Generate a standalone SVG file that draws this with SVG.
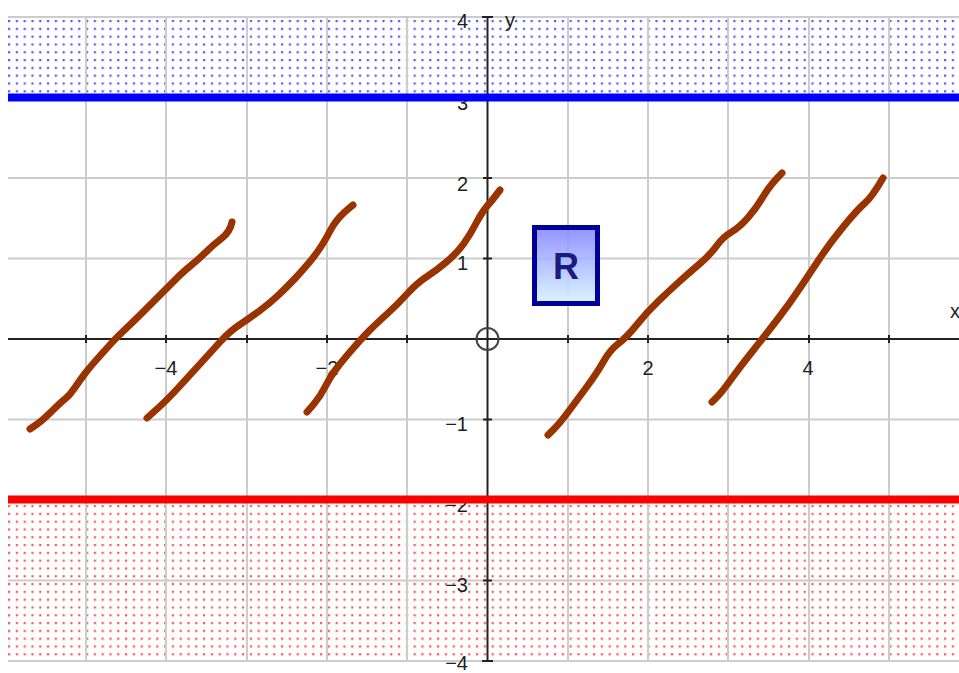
<svg xmlns="http://www.w3.org/2000/svg" width="959" height="673" viewBox="0 0 959 673">
  <style>
    .grid { stroke: #cccccc; stroke-width: 2; fill: none; }
    .axis { stroke: #222222; stroke-width: 2; fill: none; }
    .lbl { font-family: "Liberation Sans", Arial, sans-serif; font-size: 20px; fill: #1e1e1e; }
    .curve { stroke: #993300; stroke-width: 7; fill: none; stroke-linecap: round; stroke-linejoin: round; }
  </style>
  <defs>
    <pattern id="dotsBlue" x="8" y="20" width="7.8" height="7.8" patternUnits="userSpaceOnUse">
      <rect x="0" y="0" width="2.2" height="2.2" fill="#5a5aff"/>
    </pattern>
    <pattern id="dotsRed" x="8" y="505" width="7.8" height="7.8" patternUnits="userSpaceOnUse">
      <rect x="0" y="0" width="2.2" height="2.2" fill="#ff5a5a"/>
    </pattern>
    <linearGradient id="boxFill" x1="0" y1="0" x2="0" y2="1">
      <stop offset="0" stop-color="#8585ff"/>
      <stop offset="1" stop-color="#d6f4ff"/>
    </linearGradient>
  </defs>
  <rect width="959" height="673" fill="#ffffff"/>

  <g id="regions">
    <rect x="8" y="18" width="951" height="76" fill="url(#dotsBlue)"/>
    <rect x="8" y="503" width="951" height="156" fill="url(#dotsRed)"/>
  </g>

  <g id="grid" class="grid">
    <path d="M86,17V661 M166,17V661 M247,17V661 M327,17V661 M407,17V661 M568,17V661 M648,17V661 M728,17V661 M809,17V661 M889,17V661"/>
    <path d="M8,17H959 M8,97.5H959 M8,178H959 M8,258.5H959 M8,419.5H959 M8,500H959 M8,580.5H959 M8,661H959"/>
  </g>

  <g id="axes" class="axis">
    <path d="M8,339H959"/>
    <path d="M487.5,17V661"/>
    <path d="M482,17H493 M482,661H493"/>
    <path d="M483,97.5H492 M483,178H492 M483,258.5H492 M483,419.5H492 M483,500H492 M483,580.5H492"/>
    <path d="M86,335V343 M166,335V343 M247,335V343 M327,335V343 M407,335V343 M568,335V343 M648,335V343 M728,335V343 M809,335V343 M889,335V343"/>
  </g>

  <g id="labels" class="lbl">
    <text x="468" y="28" text-anchor="end">4</text>
    <text x="468" y="110" text-anchor="end">3</text>
    <text x="468" y="191" text-anchor="end">2</text>
    <text x="468" y="270" text-anchor="end">1</text>
    <text x="468" y="431" text-anchor="end">−1</text>
    <text x="468" y="512" text-anchor="end">−2</text>
    <text x="468" y="592" text-anchor="end">−3</text>
    <text x="468" y="670" text-anchor="end">−4</text>
    <text x="166" y="375" text-anchor="middle">−4</text>
    <text x="327" y="375" text-anchor="middle">−2</text>
    <text x="648" y="375" text-anchor="middle">2</text>
    <text x="808" y="375" text-anchor="middle">4</text>
    <text x="505" y="27">y</text>
    <text x="950" y="318">x</text>
  </g>

  <g id="boundaries">
    <line id="line-y3" x1="8" y1="97.5" x2="959" y2="97.5" stroke="#0000ff" stroke-width="8"/>
    <line id="line-ym2" x1="8" y1="499.5" x2="959" y2="499.5" stroke="#ff0000" stroke-width="8"/>
  </g>

  <g id="curves">
    <path id="curve1" class="curve" d="M30,429 L36.5,424.5 Q43,420 51.5,411.5 Q60,403 65,399 Q70,395 75,387.5 Q80,380 85,373.5 Q90,367 98.5,357.5 Q107,348 112,342.5 Q117,337 125,329.5 Q133,322 140,315 Q147,308 153.5,301.5 Q160,295 166.5,288.5 Q173,282 178,277 Q183,272 191.5,265 Q200,258 206.5,251.5 Q213,245 221.5,238.5 Q230,232 232,222"/>
    <path id="curve2" class="curve" d="M147,418 L157,409 Q167,400 178.5,387.5 Q190,375 200,364 Q210,353 220,342 Q230,331 240,324.5 Q250,318 260,310.5 Q270,303 278.5,295 Q287,287 295,278.5 Q303,270 310,261.5 Q317,253 322,245 Q327,237 330,231 Q333,225 338,219 Q343,213 353,205"/>
    <path id="curve3" class="curve" d="M307,412 L313.5,404.5 Q320,397 325,387 Q330,377 336.5,368.5 Q343,360 353,348.5 Q363,337 370,330 Q377,323 387,314 Q397,305 407,294 Q417,283 427,276.5 Q437,270 447,261.5 Q457,253 463.5,244 Q470,235 476.5,222.5 Q483,210 491.5,201 L500,190"/>
    <path id="curve4" class="curve" d="M548,435 L554,429 Q560,423 568.5,411.5 Q577,400 587,386.5 Q597,373 603.5,361.5 Q610,350 618.5,343.5 Q627,337 637,324.5 Q647,312 658.5,301 Q670,290 680,281 Q690,272 700,263.5 Q710,255 716.5,246 Q723,237 731.5,232 Q740,227 748.5,217 Q757,207 763.5,196 Q770,185 782,173"/>
    <path id="curve5" class="curve" d="M712,402 L717,397 Q722,392 731,379.5 Q740,367 753.5,350 Q767,333 778.5,318 Q790,303 800,288 Q810,273 820,258 Q830,243 843.5,226.5 Q857,210 864.5,203.5 Q872,197 883,178"/>
  </g>

  <g id="node-R">
    <rect x="534.5" y="227.5" width="63" height="76" fill="url(#boxFill)" fill-opacity="0.88" stroke="#000099" stroke-width="5"/>
    <text x="566" y="279" text-anchor="middle" font-family="'Liberation Sans', Arial, sans-serif" font-weight="bold" font-size="36" fill="#1c1c80">R</text>
  </g>

  <g id="origin">
    <circle cx="487.5" cy="339" r="11" fill="none" stroke="#444444" stroke-width="2"/>
  </g>
</svg>
